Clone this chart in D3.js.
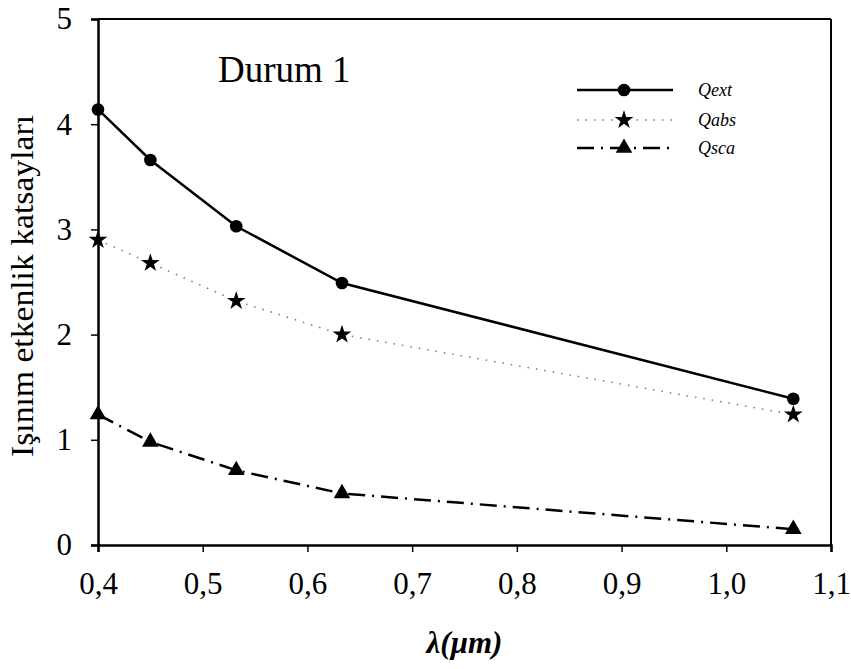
<!DOCTYPE html>
<html>
<head>
<meta charset="utf-8">
<script src="https://cdn.jsdelivr.net/npm/d3@7"></script>
<style>
  body { margin: 0; background: #fff; }
  text { font-family: "Liberation Serif", "Times New Roman", "DejaVu Serif", serif; fill: #000; }
</style>
</head>
<body>
<svg id="chart"></svg>
<script>
// wavelength (micron) and efficiency factors
var wavelengths = [0.4, 0.45, 0.532, 0.633, 1.064];
var qext = [4.14, 3.66, 3.03, 2.49, 1.39];
var qabs = [2.90, 2.68, 2.32, 2.00, 1.24];
var qsca = [1.24, 0.98, 0.71, 0.49, 0.15];
var xTicks = [0.4, 0.5, 0.6, 0.7, 0.8, 0.9, 1.0, 1.1];
var yTicks = [0, 1, 2, 3, 4, 5];
var seriesNames = ["Qext", "Qabs", "Qsca"];

var width = 851, height = 669;
var plotLeft = 98, plotRight = 831, plotTop = 19, plotBottom = 545;
var serif = "'Liberation Serif', 'Times New Roman', serif";

var svg = d3.select("#chart")
    .attr("width", width)
    .attr("height", height);

var xScale = d3.scaleLinear().domain([0.4, 1.1]).range([plotLeft, plotRight]);
var yScale = d3.scaleLinear().domain([0, 5]).range([plotBottom, plotTop]);

var commaFmt = function (d) { return d3.format(".1f")(d).replace(".", ","); };

// frame (top and right)
svg.append("line").attr("x1", plotLeft).attr("x2", plotRight).attr("y1", plotTop).attr("y2", plotTop)
    .attr("stroke", "#000").attr("stroke-width", 2);
svg.append("line").attr("x1", plotRight).attr("x2", plotRight).attr("y1", plotTop).attr("y2", plotBottom)
    .attr("stroke", "#000").attr("stroke-width", 2);

var xAxis = svg.append("g")
    .attr("transform", "translate(0," + plotBottom + ")")
    .call(d3.axisBottom(xScale).tickValues(xTicks).tickSize(7).tickPadding(20).tickFormat(commaFmt));
xAxis.attr("font-family", serif);
xAxis.select(".domain").attr("stroke-width", 2.5);
xAxis.selectAll(".tick line").attr("stroke-width", 1.5);
xAxis.selectAll("text").style("font-size", "31px").attr("fill", "#000");

var yAxis = svg.append("g")
    .attr("transform", "translate(" + plotLeft + ",0)")
    .call(d3.axisLeft(yScale).tickValues(yTicks).tickSize(7).tickPadding(19).tickFormat(d3.format("d")));
yAxis.attr("font-family", serif);
yAxis.select(".domain").attr("stroke-width", 2.5);
yAxis.selectAll(".tick line").attr("stroke-width", 1.5);
yAxis.selectAll("text").style("font-size", "31px").attr("fill", "#000");

// line styles
var styles = [
    { data: qext, stroke: "#000", width: 2.5, dash: null, symbol: d3.symbolCircle, size: 125 },
    { data: qabs, stroke: "#777", width: 1.5, dash: "1.5,7", symbol: d3.symbolStar, size: 110 },
    { data: qsca, stroke: "#000", width: 2.5, dash: "17,7,2,7", symbol: d3.symbolTriangle, size: 120 }
];

var line = d3.line()
    .x(function (d, i) { return xScale(wavelengths[i]); })
    .y(function (d) { return yScale(d); });

styles.forEach(function (s) {
    svg.append("path")
        .datum(s.data)
        .attr("d", line)
        .attr("fill", "none")
        .attr("stroke", s.stroke)
        .attr("stroke-width", s.width)
        .attr("stroke-dasharray", s.dash);

    svg.selectAll(null)
        .data(s.data)
        .enter().append("path")
        .attr("d", d3.symbol().type(s.symbol).size(s.size))
        .attr("transform", function (d, i) {
            return "translate(" + xScale(wavelengths[i]) + "," + yScale(d) + ")";
        })
        .attr("fill", "#000");
});

// legend
var legendY = [90, 120, 148];
styles.forEach(function (s, i) {
    var g = svg.append("g").attr("transform", "translate(0," + legendY[i] + ")");
    g.append("line")
        .attr("x1", 577).attr("x2", 673)
        .attr("stroke", s.stroke)
        .attr("stroke-width", s.width)
        .attr("stroke-dasharray", s.dash);
    g.append("path")
        .attr("d", d3.symbol().type(s.symbol).size(s.size))
        .attr("transform", "translate(624,0)")
        .attr("fill", "#000");
    g.append("text")
        .attr("x", 698)
        .attr("y", 6)
        .style("font-size", "18px")
        .style("font-style", "italic")
        .text(seriesNames[i]);
});

svg.append("text")
    .attr("x", 218)
    .attr("y", 82)
    .style("font-size", "37px")
    .text("Durum 1");

svg.append("text")
    .attr("transform", "translate(33,286) rotate(-90)")
    .attr("text-anchor", "middle")
    .style("font-size", "32px")
    .attr("textLength", 342)
    .attr("lengthAdjust", "spacingAndGlyphs")
    .text("Işınım etkenlik katsayları");

svg.append("text")
    .attr("x", (plotLeft + plotRight) / 2)
    .attr("y", 653)
    .attr("text-anchor", "middle")
    .style("font-size", "31px")
    .style("font-style", "italic")
    .style("font-weight", "bold")
    .text("λ(μm)");
</script>
</body>
</html>
